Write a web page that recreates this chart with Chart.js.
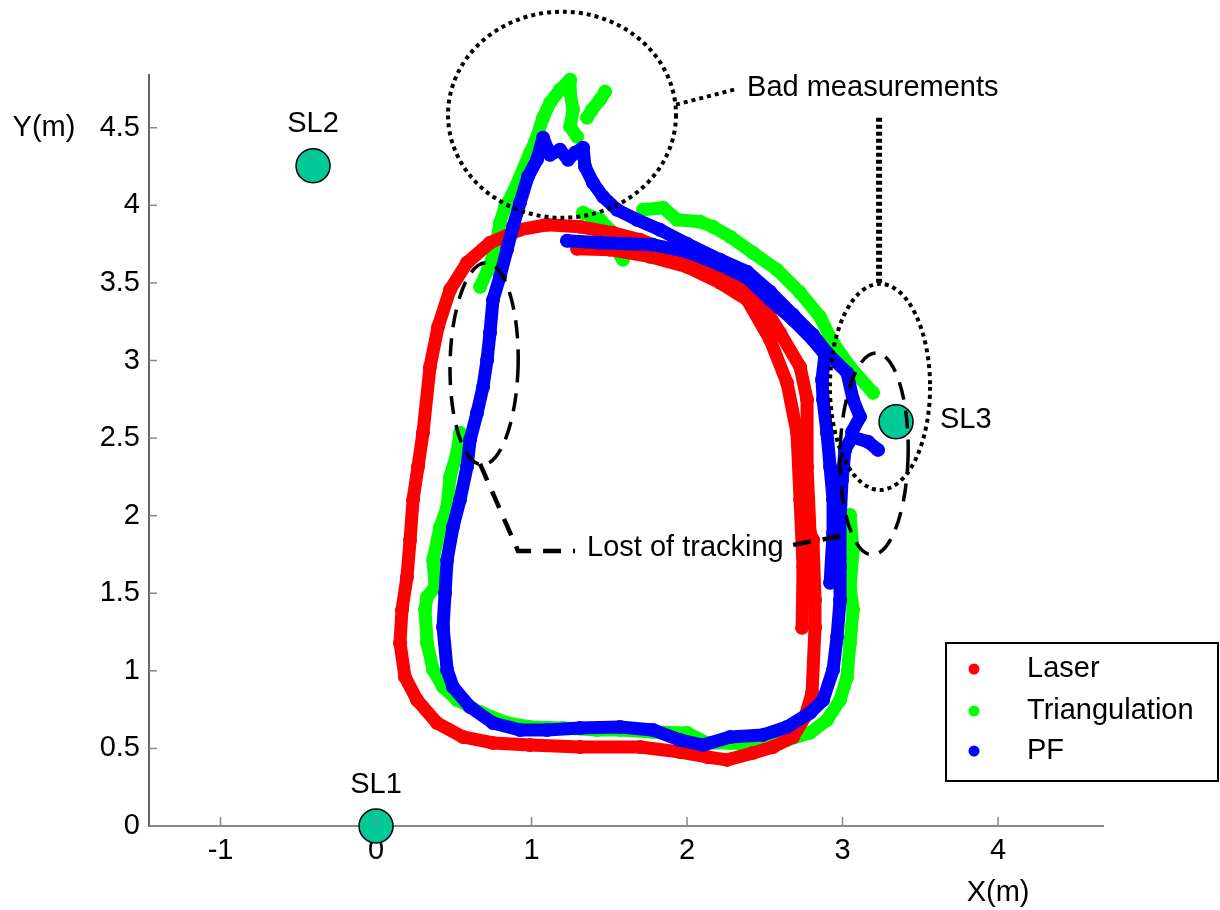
<!DOCTYPE html>
<html><head><meta charset="utf-8">
<script src="https://cdn.jsdelivr.net/npm/chart.js@4.4.1/dist/chart.umd.min.js"></script>
<style>html,body{margin:0;padding:0;background:#fff;}</style>
</head><body>
<canvas id="c" width="1220" height="910"></canvas>
<script>
// ---------- data ----------
const xTicks = [-1, 0, 1, 2, 3, 4];
const yTicks = [0, 0.5, 1, 1.5, 2, 2.5, 3, 3.5, 4, 4.5];
const seriesNames = ['Laser', 'Triangulation', 'PF'];

const beaconNames = ['SL1', 'SL2', 'SL3'];
const beaconX = [0, -0.405, 3.344];
const beaconY = [0, 4.255, 2.605];

// Laser (red)
const laserInner = [[1.293,3.720],[1.505,3.714],[1.762,3.669],[2.000,3.604],[2.212,3.501],[2.386,3.391],[2.534,3.133],[2.643,2.856],[2.707,2.534],[2.727,2.102],[2.746,1.670],[2.740,1.277]];
const laserOuter = [[2.810,1.844],[2.823,1.457],[2.823,1.283],[2.804,0.858],[2.759,0.703],[2.682,0.574],[2.553,0.509],[2.424,0.471],[2.257,0.426],[2.129,0.445],[1.955,0.477],[1.698,0.509],[1.312,0.509],[0.990,0.522],[0.752,0.535],[0.559,0.574],[0.392,0.664],[0.264,0.812],[0.186,0.961],[0.154,1.180],[0.167,1.393],[0.199,1.605],[0.219,1.844],[0.238,2.102],[0.270,2.315],[0.302,2.534],[0.347,2.959],[0.399,3.217],[0.476,3.456],[0.585,3.630],[0.733,3.759],[0.926,3.843],[1.100,3.875],[1.312,3.862],[1.524,3.823],[1.698,3.778],[1.955,3.681],[2.212,3.540],[2.469,3.391],[2.598,3.179],[2.727,2.959],[2.772,2.747],[2.772,2.315],[2.791,1.889],[2.810,1.844]];

// Triangulation (green)
const triLower = [[3.048,2.005],[3.068,1.780],[3.048,1.541],[3.068,1.393],[3.048,1.180],[3.029,0.961],[2.984,0.812],[2.900,0.683],[2.791,0.600],[2.643,0.554],[2.469,0.522],[2.277,0.535],[2.129,0.535],[2.000,0.600],[1.781,0.606],[1.569,0.619],[1.421,0.619],[1.203,0.632],[0.990,0.638],[0.842,0.664],[0.669,0.735],[0.521,0.812],[0.431,0.896],[0.367,1.006],[0.328,1.180],[0.315,1.393],[0.328,1.476],[0.379,1.541],[0.367,1.715],[0.412,1.928],[0.457,2.057],[0.476,2.250],[0.521,2.405],[0.540,2.534]];
const triSpike = [[0.669,3.475],[0.720,3.585],[0.765,3.714],[0.797,3.888],[0.830,3.991],[0.875,4.068],[0.990,4.339],[1.023,4.410],[1.074,4.565],[1.119,4.662],[1.183,4.745],[1.248,4.810],[1.248,4.726],[1.267,4.616],[1.248,4.507],[1.293,4.442]];
const triDots = [[1.357,4.565],[1.389,4.616],[1.441,4.681],[1.473,4.732]];
const triTop = [[1.331,3.952],[1.441,3.907],[1.537,3.810],[1.569,3.681],[1.588,3.649]];
const triRight = [[1.717,3.972],[1.846,3.985],[1.936,3.907],[2.084,3.894],[2.167,3.862],[2.277,3.798],[2.424,3.694],[2.579,3.585],[2.727,3.437],[2.855,3.282],[2.939,3.114],[3.048,2.959],[3.196,2.792]];

// PF (blue)
const pfInner = [[1.228,3.772],[1.441,3.759],[1.781,3.746],[2.000,3.701],[2.212,3.617],[2.386,3.533],[2.534,3.391],[2.682,3.262],[2.810,3.133],[2.887,3.037],[2.868,2.876],[2.875,2.747],[2.900,2.534],[2.920,2.315],[2.939,2.102],[2.939,1.889],[2.920,1.567]];
const pfMain = [[3.228,2.424],[3.164,2.476],[3.061,2.508],[3.016,2.424],[2.997,2.231],[2.984,1.973],[2.984,1.670],[2.984,1.457],[2.965,1.219],[2.939,1.006],[2.875,0.812],[2.791,0.729],[2.643,0.638],[2.489,0.587],[2.277,0.574],[2.103,0.522],[1.955,0.554],[1.781,0.619],[1.569,0.638],[1.312,0.632],[1.100,0.619],[0.926,0.619],[0.752,0.664],[0.605,0.767],[0.495,0.896],[0.457,1.006],[0.431,1.283],[0.444,1.502],[0.457,1.715],[0.495,1.928],[0.540,2.102],[0.585,2.315],[0.605,2.489],[0.650,2.663],[0.688,2.830],[0.714,3.004],[0.733,3.179],[0.752,3.391],[0.797,3.540],[0.842,3.714],[0.881,3.862],[0.926,4.017],[0.977,4.184],[1.035,4.294],[1.074,4.436],[1.119,4.326],[1.183,4.358],[1.235,4.294],[1.280,4.339],[1.331,4.371],[1.344,4.249],[1.395,4.146],[1.460,4.055],[1.550,3.972],[1.678,3.907],[1.826,3.843],[2.000,3.752],[2.212,3.649],[2.386,3.572],[2.534,3.443],[2.682,3.295],[2.810,3.166],[2.900,3.050],[3.029,2.921],[3.068,2.747],[3.113,2.637],[3.061,2.540]];

// ---------- styles / annotation geometry (data units) ----------
const COLORS = {Laser:'#ff0000', Triangulation:'#00ff00', PF:'#0000ff'};
const FONT = "29px 'Liberation Sans', Arial, sans-serif";
const ann = {
  badCircle: {cx:1.196, cy:4.584, rx:0.733, ry:0.664, rot:0},
  sl3Dotted: {cx:3.241, cy:2.830, rx:0.322, ry:0.664, rot:0},
  lostLeft: {cx:0.695, cy:2.979, rx:0.219, ry:0.651, rot:0.02},
  lostRight: {cx:3.203, cy:2.398, rx:0.219, ry:0.651, rot:0.02},
  badLeader: [[1.929,4.649],[2.328,4.752]],
  badVertical: [[3.235,4.565],[3.235,3.501]],
  lostLeader1: [[0.669,2.334],[0.913,1.773],[1.280,1.773]],
  lostLeader2: [[2.682,1.812],[2.997,1.870]],
  badText: {x:2.386, y:4.758, text:'Bad measurements'},
  lostText: {x:1.357, y:1.792, text:'Lost of tracking'}
};

function seg(arr, name){
  const c = COLORS[name];
  return {label:name, data:arr.map(p=>({x:p[0], y:p[1]})), showLine:true,
    borderColor:c, backgroundColor:c, borderWidth:13, pointRadius:7, pointHoverRadius:7,
    pointBorderWidth:0, borderCapStyle:'round', borderJoinStyle:'round', tension:0, clip:false};
}

const datasets = [
  {label:'beacons', data:beaconX.map((v,i)=>({x:v, y:beaconY[i]})), showLine:false,
   pointRadius:17, pointHoverRadius:17, backgroundColor:'#00c896', borderColor:'#000', pointBorderWidth:1.5, clip:false},
  seg(pfInner,'PF'), seg(pfMain,'PF'),
  seg(laserInner,'Laser'), seg(laserOuter,'Laser'),
  seg(triLower,'Triangulation'), seg(triSpike,'Triangulation'), seg(triDots,'Triangulation'),
  seg(triTop,'Triangulation'), seg(triRight,'Triangulation')
];

const deco = {
  id:'deco',
  afterDatasetsDraw(chart){
    const ctx = chart.ctx, xs = chart.scales.x, ys = chart.scales.y;
    const px = v=>xs.getPixelForValue(v), py = v=>ys.getPixelForValue(v);
    ctx.save();
    // inward ticks
    ctx.strokeStyle = '#888'; ctx.lineWidth = 1.5; ctx.setLineDash([]);
    xTicks.forEach(v=>{ctx.beginPath(); ctx.moveTo(px(v), ys.bottom); ctx.lineTo(px(v), ys.bottom-9); ctx.stroke();});
    yTicks.forEach(v=>{ctx.beginPath(); ctx.moveTo(xs.left, py(v)); ctx.lineTo(xs.left+8, py(v)); ctx.stroke();});

    const ell = (e)=>{
      const cx = px(e.cx), cy = py(e.cy);
      const rx = Math.abs(px(e.cx+e.rx)-cx), ry = Math.abs(py(e.cy+e.ry)-cy);
      ctx.beginPath(); ctx.ellipse(cx, cy, rx, ry, e.rot, 0, Math.PI*2); ctx.stroke();
    };
    const poly = (pts)=>{
      ctx.beginPath(); pts.forEach((p,i)=>{ if(i===0) ctx.moveTo(px(p[0]),py(p[1])); else ctx.lineTo(px(p[0]),py(p[1])); }); ctx.stroke();
    };
    ctx.strokeStyle = '#000'; ctx.lineCap = 'butt';
    // dotted
    ctx.lineWidth = 4; ctx.setLineDash([4,4]);
    ell(ann.badCircle); ell(ann.sl3Dotted); poly(ann.badLeader);
    ctx.lineWidth = 6; ctx.setLineDash([4,3]);
    poly(ann.badVertical);
    // dashed
    ctx.lineWidth = 3.5; ctx.setLineDash([18,11]);
    ell(ann.lostLeft); ell(ann.lostRight);
    ctx.lineWidth = 4.5; ctx.setLineDash([18,12]);
    poly(ann.lostLeader1); poly(ann.lostLeader2);
    ctx.setLineDash([]);

    // texts
    ctx.fillStyle = '#000'; ctx.font = FONT; ctx.textBaseline = 'middle';
    ctx.textAlign = 'left';
    ctx.fillText(ann.badText.text, px(ann.badText.x), py(ann.badText.y));
    ctx.fillText(ann.lostText.text, px(ann.lostText.x), py(ann.lostText.y));
    // beacon labels
    ctx.textAlign = 'center';
    ctx.fillText(beaconNames[0], px(beaconX[0]), py(beaconY[0])-41);
    ctx.fillText(beaconNames[1], px(beaconX[1]), py(beaconY[1])-42);
    ctx.textAlign = 'left';
    ctx.fillText(beaconNames[2], px(beaconX[2])+44, py(beaconY[2])-2);
    // axis titles
    ctx.textAlign = 'center';
    ctx.fillText('Y(m)', 44, py(4.5));
    ctx.fillText('X(m)', px(4), 893);

    // legend
    ctx.lineWidth = 2; ctx.strokeStyle = '#000';
    ctx.strokeRect(946, 643, 272, 138);
    const ly = [669, 711, 751];
    ctx.textAlign = 'left';
    seriesNames.forEach((n,i)=>{
      ctx.fillStyle = COLORS[n];
      ctx.beginPath(); ctx.arc(974, ly[i], 5.5, 0, Math.PI*2); ctx.fill();
      ctx.fillStyle = '#000';
      ctx.fillText(n, 1027, ly[i]);
    });
    ctx.restore();
  }
};

Chart.defaults.font.family = "'Liberation Sans', Arial, sans-serif";
Chart.defaults.font.size = 29;
Chart.defaults.color = '#000';

new Chart(document.getElementById('c'), {
  type:'scatter',
  data:{datasets},
  options:{
    responsive:false, animation:false, events:[],
    layout:{padding:{left:0, top:75, right:117, bottom:0}},
    plugins:{legend:{display:false}, tooltip:{enabled:false}},
    scales:{
      x:{type:'linear', min:-1.46, max:4.675,
        afterBuildTicks:s=>{ s.ticks = xTicks.map(v=>({value:v})); },
        afterFit:s=>{ s.height = 84; },
        grid:{drawOnChartArea:false, drawTicks:false},
        border:{display:true, color:'#888', width:2},
        ticks:{padding:8, color:'#000', maxRotation:0, autoSkip:false, callback:v=>String(v)}},
      y:{type:'linear', min:0, max:4.84,
        afterBuildTicks:s=>{ s.ticks = yTicks.map(v=>({value:v})); },
        afterFit:s=>{ s.width = 149; },
        grid:{drawOnChartArea:false, drawTicks:false},
        border:{display:true, color:'#666', width:2},
        ticks:{padding:9, color:'#000', autoSkip:false, callback:v=>String(v)}}
    }
  },
  plugins:[deco]
});
</script>
</body></html>
